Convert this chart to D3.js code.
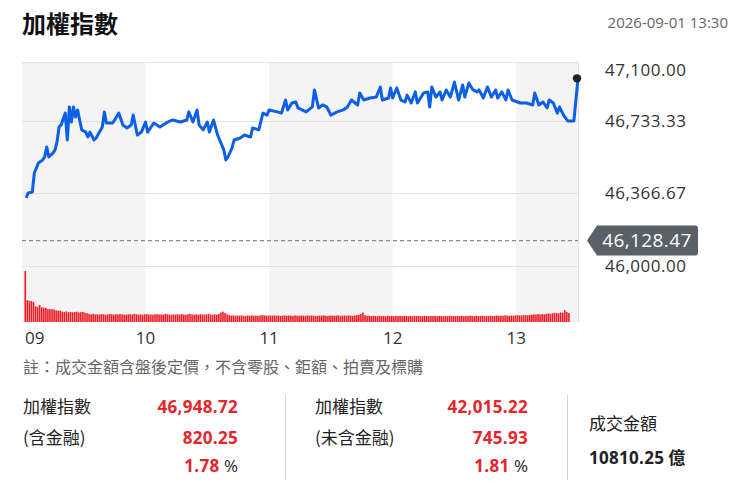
<!DOCTYPE html>
<html><head><meta charset="utf-8">
<script src="https://cdn.jsdelivr.net/npm/d3@7"></script>
<style>
body{margin:0;background:#fff;}
svg{display:block;font-family:"Open Sans","Noto Sans CJK TC",sans-serif;}
</style></head><body>
<svg id="c" width="750" height="500"></svg>
<script>
const title = "加權指數";
const timestamp = "2026-09-01 13:30";
const note = "註：成交金額含盤後定價，不含零股、鉅額、拍賣及標購";
const prevClose = 46128.47;
const yTicks = [47100, 46733.33, 46366.67, 46000];
const hourLabels = ["09","10","11","12","13"];
const hourMinutes = [0,60,120,180,240];

// minutes after 09:00 and index level
const priceMinutes = [
 2,3,5,6,8,10,11,12,13,15,
 16,17,18,19,21,22,23,24,25,26,
 27,28,29,31,32,33,35,36,39,40,
 41,44,45,47,49,51,53,54,56,58,
 60,61,64,67,70,73,77,80,81,83,
 85,86,88,90,91,93,95,96,98,99,
 100,102,103,106,108,111,112,115,117,119,
 120,124,126,128,129,131,133,134,138,141,
 142,144,146,148,150,153,156,158,160,163,
 164,166,169,172,174,175,178,179,180,182,
 184,186,187,189,191,192,195,197,198,199,
 201,203,204,206,208,210,212,214,215,217,
 219,221,222,224,226,228,230,231,233,235,
 236,238,242,245,248,249,251,253,255,256,
 258,260,261,263,265,268,270];
const priceValues = [
 46344,46369,46374,46470,46521,46536,46551,46602,46551,46571,
 46586,46627,46703,46713,46773,46637,46804,46728,46804,46753,
 46789,46738,46688,46677,46652,46677,46637,46647,46703,46779,
 46723,46723,46738,46773,46713,46698,46713,46763,46662,46677,
 46728,46677,46723,46703,46723,46738,46728,46738,46779,46728,
 46789,46713,46688,46728,46677,46738,46662,46637,46587,46536,
 46551,46597,46637,46647,46662,46652,46698,46688,46773,46763,
 46789,46779,46773,46839,46789,46824,46829,46799,46779,46804,
 46890,46799,46814,46804,46763,46779,46789,46804,46839,46814,
 46875,46839,46849,46854,46905,46839,46849,46900,46849,46900,
 46839,46829,46864,46824,46880,46824,46875,46880,46804,46905,
 46854,46880,46839,46890,46854,46930,46839,46915,46854,46925,
 46890,46880,46890,46849,46905,46854,46890,46849,46880,46839,
 46890,46839,46824,46824,46814,46875,46814,46829,46799,46839,
 46824,46773,46804,46763,46733,46733,46948.72];

// per-minute turnover (億), minutes 1..265
const volumes = [
 385,165,160,158,150,118,115,128,110,108,106,98,96,97,94,
 88,86,85,78,76,80,74,76,73,75,78,72,74,76,70,
 66,60,58,62,57,59,56,60,58,55,57,61,58,56,59,
 57,60,58,55,56,58,59,57,62,58,56,57,55,58,60,
 56,57,55,58,60,57,58,56,62,59,57,55,58,56,59,
 57,60,56,55,58,61,57,56,58,55,59,57,56,58,60,
 57,55,58,56,60,72,78,68,58,52,48,50,47,49,48,
 50,47,46,49,48,50,47,48,46,49,52,50,48,47,49,
 48,50,47,49,46,48,50,47,49,48,46,50,48,47,49,
 48,46,50,47,49,48,46,47,49,48,50,47,46,48,49,
 47,48,50,46,48,49,47,50,48,46,49,52,55,60,72,
 50,46,48,45,47,46,44,47,45,46,44,47,45,46,44,
 46,45,47,44,46,45,43,46,44,47,45,46,44,45,47,
 45,44,46,45,47,44,46,45,43,46,44,47,45,46,44,
 46,45,47,44,46,45,48,46,44,47,45,46,48,45,47,
 46,48,45,47,49,46,48,47,50,48,46,49,47,50,52,
 50,49,52,51,50,53,55,58,56,60,57,59,58,62,64,
 62,66,70,68,65,72,70,90,75,68];

const indexNames = [["加權指數","(含金融)"],["加權指數","(未含金融)"]];
const indexValues = [46948.72, 42015.22];
const indexChanges = [820.25, 745.93];
const indexPct = [1.78, 1.81];
const turnoverLabel = "成交金額";
const turnoverValue = 10810.25;
const turnoverUnit = "億";

const RED = "#e3262b", BLUE = "#0d5fe6", DARK = "#222";
const svg = d3.select("#c");
const L = 22, R = 578, T = 62, B = 322;

const x = d3.scaleLinear().domain([0,270]).range([L,R]);
const y = d3.scaleLinear().domain([46000,47100]).range([266,48.4]);
const yv = d3.scaleLinear().domain([0,400]).range([B,269]);

// header
svg.append("text").attr("x",22).attr("y",33).attr("font-size",24).attr("font-weight",700)
  .attr("fill","#111").attr("font-family","'Noto Sans CJK TC',sans-serif").text(title);
svg.append("text").attr("x",728).attr("y",28).attr("text-anchor","end").attr("font-size",15)
  .attr("fill","#666").text(timestamp);

// hour bands
const bandEdges = hourMinutes.concat([270]);
hourMinutes.forEach((m,i)=>{
  svg.append("rect").attr("x",x(m)).attr("y",T).attr("width",x(bandEdges[i+1])-x(m)).attr("height",B-T)
    .attr("fill", i%2===0 ? "#f4f4f4" : "#ffffff");
});
// borders
svg.append("line").attr("x1",L).attr("x2",R).attr("y1",T+0.5).attr("y2",T+0.5).attr("stroke","#e4e4e4");
svg.append("line").attr("x1",R+0.5).attr("x2",R+0.5).attr("y1",T).attr("y2",B).attr("stroke","#e4e4e4");

// gridlines
yTicks.filter(v=>y(v)>T).forEach(v=>{
  svg.append("line").attr("x1",L).attr("x2",R).attr("y1",Math.round(y(v))+0.5).attr("y2",Math.round(y(v))+0.5)
    .attr("stroke","#e2e2e2");
});

// volume bars
svg.append("g").selectAll("rect").data(volumes).join("rect")
  .attr("x",(d,i)=>x(i+1)+0.4).attr("width",1.6)
  .attr("y",d=>yv(d)).attr("height",d=>B-yv(d)).attr("fill","#ec1c24");

// prev close dashed line
svg.append("line").attr("x1",L).attr("x2",R).attr("y1",y(prevClose)).attr("y2",y(prevClose))
  .attr("stroke","#8a8a8a").attr("stroke-width",1.3).attr("stroke-dasharray","4,3");

// price line
const pts = priceMinutes.map((m,i)=>({m, v:priceValues[i]}));
svg.append("path").datum(pts).attr("fill","none").attr("stroke",BLUE).attr("stroke-width",3)
  .attr("stroke-linejoin","round").attr("d", d3.line().x(d=>x(d.m)).y(d=>y(d.v)));
const last = pts[pts.length-1];
svg.append("circle").attr("cx",x(last.m)-1).attr("cy",y(last.v)).attr("r",4.2).attr("fill","#222");

// y labels
const fmt = d3.format(",.2f");
yTicks.forEach(v=>{
  const yy = Math.max(y(v), 70);
  svg.append("text").attr("x",605).attr("y",yy).attr("dy","0.35em").attr("font-size",17)
    .attr("letter-spacing",0.5).attr("fill","#333").text(fmt(v));
});

// prev close badge
const by = y(prevClose);
svg.append("path").attr("d",`M587,${by} L597,${by-15} L695,${by-15} Q698,${by-15} 698,${by-12} L698,${by+12} Q698,${by+15} 695,${by+15} L597,${by+15} Z`)
  .attr("fill","#596066");
svg.append("text").attr("x",647).attr("y",by).attr("dy","0.36em").attr("text-anchor","middle")
  .attr("font-size",19).attr("letter-spacing",0.4).attr("fill","#fff").text(fmt(prevClose));

// x labels
hourLabels.forEach((t,i)=>{
  const first = i===0;
  svg.append("text").attr("x", first ? x(hourMinutes[i])+3 : x(hourMinutes[i])).attr("y",344)
    .attr("text-anchor", first ? "start" : "middle").attr("font-size",17).attr("fill","#333").text(t);
});

// note
svg.append("text").attr("x",23).attr("y",373).attr("font-size",16).attr("fill","#666")
  .attr("font-family","'Noto Sans CJK TC',sans-serif").text(note);

// stats
const colX = [23, 315], colR = [238, 528];
const rowY = [413, 444, 472];
indexNames.forEach((names,c)=>{
  names.forEach((n,r)=>{
    svg.append("text").attr("x",colX[c]).attr("y",rowY[r]).attr("font-size",17).attr("fill",DARK)
      .attr("font-family","'Noto Sans CJK TC',sans-serif").text(n);
  });
  svg.append("text").attr("x",colR[c]).attr("y",rowY[0]).attr("text-anchor","end").attr("font-size",17)
    .attr("font-weight",700).attr("letter-spacing",0.3).attr("fill",RED).text(fmt(indexValues[c]));
  svg.append("text").attr("x",colR[c]).attr("y",rowY[1]).attr("text-anchor","end").attr("font-size",17)
    .attr("font-weight",700).attr("letter-spacing",0.3).attr("fill",RED).text(fmt(indexChanges[c]));
  const t = svg.append("text").attr("x",colR[c]).attr("y",rowY[2]).attr("text-anchor","end").attr("font-size",17);
  t.append("tspan").attr("font-weight",700).attr("fill",RED).attr("letter-spacing",0.3).text(d3.format(".2f")(indexPct[c]));
  t.append("tspan").attr("fill",DARK).text(" %");
});
[285, 567].forEach(xx=>{
  svg.append("line").attr("x1",xx+0.5).attr("x2",xx+0.5).attr("y1",395).attr("y2",480).attr("stroke","#d4d4d4");
});
svg.append("text").attr("x",589).attr("y",430).attr("font-size",17).attr("fill",DARK)
  .attr("font-family","'Noto Sans CJK TC',sans-serif").text(turnoverLabel);
const tv = svg.append("text").attr("x",589).attr("y",464).attr("font-size",17).attr("font-weight",700).attr("fill",DARK);
tv.append("tspan").attr("letter-spacing",0.3).text(d3.format(".2f")(turnoverValue));
tv.append("tspan").attr("font-family","'Noto Sans CJK TC',sans-serif").text(" " + turnoverUnit);
</script>
</body></html>
